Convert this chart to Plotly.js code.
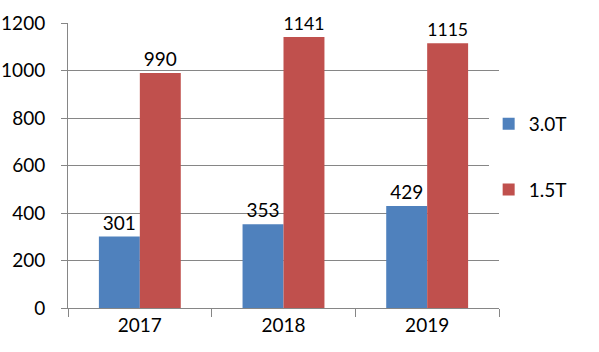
<!DOCTYPE html>
<html><head><meta charset="utf-8">
<script src="https://cdn.plot.ly/plotly-3.0.1.min.js"></script>
<style>html,body{margin:0;padding:0;background:#fff}#chart{width:599px;height:352px}</style>
</head><body><div id="chart"></div>
<script>
const years = ['2017', '2018', '2019'];
const series30T = [301, 353, 429];
const series15T = [990, 1141, 1115];
const seriesNames = ['3.0T', '1.5T'];
const yTicks = [0, 200, 400, 600, 800, 1000, 1200];

const fontFam = 'Lato, "Open Sans", sans-serif';
const traces = [
  {type:'bar', x:years, y:series30T, name:seriesNames[0], legendgroup:'a',
   marker:{color:'#4F81BD'}, text:series30T.map(String), textposition:'outside',
   textfont:{size:19, color:'#000', family:fontFam}, cliponaxis:false},
  {type:'bar', x:years, y:series15T, name:seriesNames[1], legendgroup:'b',
   marker:{color:'#C0504D'}, text:series15T.map(String), textposition:'outside',
   textfont:{size:19, color:'#000', family:fontFam}, cliponaxis:false}
];
const layout = {
  width:599, height:352,
  margin:{l:68, r:100, t:23, b:44},
  paper_bgcolor:'#fff', plot_bgcolor:'#fff',
  font:{family:fontFam, size:19, color:'#000'},
  barmode:'group', bargap:0.43, bargroupgap:0,
  showlegend:true,
  legend:{x:0.976, xanchor:'left', y:0.53, yanchor:'middle', tracegroupgap:38,
          font:{size:19, family:fontFam}, traceorder:'grouped'},
  xaxis:{type:'category', showline:true, linecolor:'#868686', linewidth:1,
         ticks:'outside', tickson:'boundaries', ticklen:8, tickcolor:'#868686',
         showgrid:false, tickfont:{size:19}},
  yaxis:{range:[0,1200], tickvals:yTicks, showline:true, linecolor:'#868686',
         ticks:'outside', ticklen:6, tickcolor:'#868686', ticklabelstandoff:12,
         showgrid:true, gridcolor:'#868686', gridwidth:1, zeroline:false,
         tickfont:{size:19}}
};
Plotly.newPlot('chart', traces, layout, {displayModeBar:false, staticPlot:true});
</script></body></html>
